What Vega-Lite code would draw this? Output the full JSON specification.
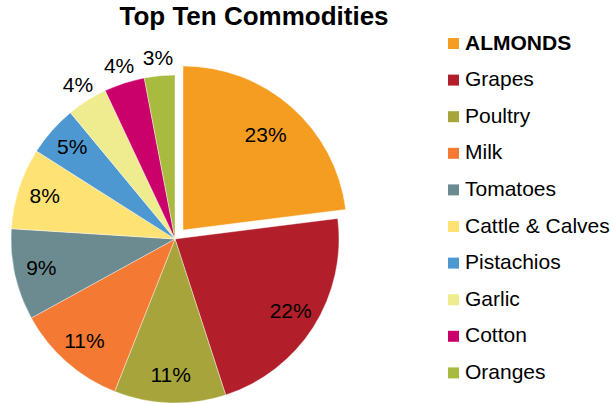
{
  "$schema": "https://vega.github.io/schema/vega-lite/v6.json",
  "autosize": {"type": "none"},
  "width": 330,
  "height": 328,
  "padding": {"left": 10, "top": 75, "right": 272, "bottom": 0},
  "background": "#ffffff",
  "title": {
    "text": "Top Ten Commodities",
    "font": "Liberation Sans",
    "fontSize": 26,
    "fontWeight": "bold",
    "color": "#000000",
    "anchor": "middle",
    "dx": 79,
    "baseline": "alphabetic",
    "offset": -18
  },
  "data": {
    "values": [
      {"commodity": "ALMONDS", "value": 23, "order": 1, "label": "23%"},
      {"commodity": "Grapes", "value": 22, "order": 2, "label": "22%"},
      {"commodity": "Poultry", "value": 11, "order": 3, "label": "11%"},
      {"commodity": "Milk", "value": 11, "order": 4, "label": "11%"},
      {"commodity": "Tomatoes", "value": 9, "order": 5, "label": "9%"},
      {"commodity": "Cattle & Calves", "value": 8, "order": 6, "label": "8%"},
      {"commodity": "Pistachios", "value": 5, "order": 7, "label": "5%"},
      {"commodity": "Garlic", "value": 4, "order": 8, "label": "4%"},
      {"commodity": "Cotton", "value": 4, "order": 9, "label": "4%"},
      {"commodity": "Oranges", "value": 3, "order": 10, "label": "3%"}
    ]
  },
  "transform": [
    {"stack": "value", "groupby": [], "sort": [{"field": "order", "order": "ascending"}], "as": ["v0", "v1"]}
  ],
  "layer": [
    {
      "transform": [{"filter": "datum.commodity !== 'ALMONDS'"}],
      "mark": {"type": "arc", "radius": 164, "stroke": "#ffffff", "strokeWidth": 0.4},
      "encoding": {
        "theta": {"field": "v0", "type": "quantitative", "stack": null, "scale": {"domain": [0, 100]}},
        "theta2": {"field": "v1"},
        "color": {
          "field": "commodity",
          "type": "nominal",
          "scale": {
            "domain": ["ALMONDS", "Grapes", "Poultry", "Milk", "Tomatoes", "Cattle & Calves", "Pistachios", "Garlic", "Cotton", "Oranges"],
            "range": ["#F59D20", "#B21F2A", "#A6A43A", "#F47932", "#6C8B91", "#FEE274", "#4D98D1", "#EEEC8E", "#CA006B", "#A8BB3E"]
          },
          "legend": {
            "orient": "none",
            "legendX": 433,
            "legendY": -42,
            "title": null,
            "padding": 0,
            "symbolType": "square",
            "symbolSize": 121,
            "symbolStrokeWidth": 0,
            "labelOffset": 1,
            "labelFont": "Liberation Sans",
            "labelFontSize": 21,
            "labelFontWeight": {"expr": "datum.value === 'ALMONDS' ? 'bold' : 'normal'"},
            "labelColor": "#000000",
            "labelLimit": 0,
            "rowPadding": 14.6
          }
        },
        "order": {"field": "order", "type": "quantitative"}
      }
    },
    {
      "transform": [{"filter": "datum.commodity === 'ALMONDS'"}],
      "mark": {"type": "arc", "radius": 164, "xOffset": 8, "yOffset": -9, "stroke": "#ffffff", "strokeWidth": 0.4},
      "encoding": {
        "theta": {"field": "v0", "type": "quantitative", "stack": null},
        "theta2": {"field": "v1"},
        "color": {"field": "commodity", "type": "nominal"}
      }
    },
    {
      "mark": {"type": "text", "radius": 137, "font": "Liberation Sans", "fontSize": 21, "color": "#000000", "align": "center", "baseline": "middle"},
      "encoding": {
        "theta": {"field": "value", "type": "quantitative", "stack": true},
        "order": {"field": "order", "type": "quantitative"},
        "text": {"condition": {"test": "datum.value > 4", "field": "label"}, "value": ""}
      }
    },
    {
      "mark": {"type": "text", "radius": 181, "font": "Liberation Sans", "fontSize": 21, "color": "#000000", "align": "center", "baseline": "middle"},
      "encoding": {
        "theta": {"field": "value", "type": "quantitative", "stack": true},
        "order": {"field": "order", "type": "quantitative"},
        "text": {"condition": {"test": "datum.value <= 4", "field": "label"}, "value": ""}
      }
    }
  ]
}
